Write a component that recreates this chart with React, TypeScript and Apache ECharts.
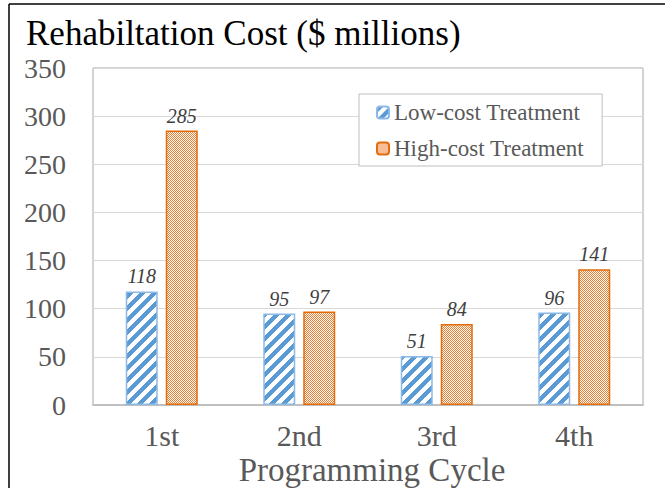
import React, { useEffect, useRef } from "react";
import * as echarts from "echarts";

const categories = ["1st", "2nd", "3rd", "4th"];
const lowCost = [118, 95, 51, 96];
const highCost = [285, 97, 84, 141];
const yTicks = { min: 0, max: 350, interval: 50 };

function makeStripe(): HTMLCanvasElement {
  const P = 12;
  const c = document.createElement("canvas");
  c.width = P;
  c.height = P;
  const ctx = c.getContext("2d")!;
  const img = ctx.createImageData(P, P);
  for (let y = 0; y < P; y++) {
    for (let x = 0; x < P; x++) {
      const i = (y * P + x) * 4;
      const on = (x + y) % P < 6;
      img.data[i] = on ? 91 : 255;
      img.data[i + 1] = on ? 155 : 255;
      img.data[i + 2] = on ? 213 : 255;
      img.data[i + 3] = 255;
    }
  }
  ctx.putImageData(img, 0, 0);
  return c;
}

function makeChecker(): HTMLCanvasElement {
  const c = document.createElement("canvas");
  c.width = 2;
  c.height = 2;
  const ctx = c.getContext("2d")!;
  ctx.fillStyle = "#ffffff";
  ctx.fillRect(0, 0, 2, 2);
  ctx.fillStyle = "#ED7D31";
  ctx.fillRect(0, 0, 1, 1);
  ctx.fillRect(1, 1, 1, 1);
  return c;
}

export default function App() {
  const ref = useRef<HTMLDivElement>(null);
  useEffect(() => {
    document.body.style.margin = "0";
    const chart = echarts.init(ref.current!, null, { renderer: "svg" });
    const font = "'Liberation Serif', 'Times New Roman', serif";
    const labelStyle = {
      show: true,
      position: "top" as const,
      distance: 5,
      fontFamily: font,
      fontStyle: "italic" as const,
      fontSize: 20,
      color: "#404040",
    };
    chart.setOption({
      animation: false,
      backgroundColor: "#ffffff",
      title: {
        text: "Rehabiltation Cost ($ millions)",
        left: 21,
        top: 11,
        textStyle: { fontFamily: font, fontSize: 35, fontWeight: "normal", color: "#000000" },
      },
      graphic: [
        { type: "line", shape: { x1: 9, y1: 4, x2: 665, y2: 4 }, style: { stroke: "#000", lineWidth: 1.5 } },
        { type: "line", shape: { x1: 9, y1: 4, x2: 9, y2: 488 }, style: { stroke: "#000", lineWidth: 1.5 } },
      ],
      legend: {
        orient: "vertical",
        left: 359,
        top: 94,
        padding: [7, 18, 6, 17],
        itemGap: 13,
        itemWidth: 12,
        itemHeight: 12,
        borderColor: "#BFBFBF",
        borderWidth: 1,
        backgroundColor: "#ffffff",
        textStyle: { fontFamily: font, fontSize: 23, color: "#595959" },
        data: ["Low-cost Treatment", "High-cost Treatment"],
      },
      grid: {
        left: 93,
        right: 22,
        top: 68,
        bottom: 83,
        show: true,
        borderColor: "#A6A6A6",
        borderWidth: 1,
        containLabel: false,
        outerBoundsMode: "none",
      },
      xAxis: {
        type: "category",
        data: categories,
        axisTick: { show: false },
        axisLine: { lineStyle: { color: "#BFBFBF", width: 2 } },
        axisLabel: { fontFamily: font, fontSize: 30, lineHeight: 28, color: "#595959", margin: 16 },
        name: "Programming Cycle",
        nameLocation: "middle",
        nameGap: 50,
        nameMoveOverlap: false,
        nameTextStyle: { fontFamily: font, fontSize: 33, lineHeight: 30, color: "#595959", padding: [0, 0, 0, 8] },
      },
      yAxis: {
        type: "value",
        min: yTicks.min,
        max: yTicks.max,
        interval: yTicks.interval,
        axisLine: { show: false },
        axisTick: { show: false },
        splitLine: { lineStyle: { color: "#D9D9D9" } },
        axisLabel: { fontFamily: font, fontSize: 28, color: "#595959", margin: 27 },
      },
      series: [
        {
          name: "Low-cost Treatment",
          type: "bar",
          data: lowCost,
          barWidth: 32,
          barGap: "25%",
          itemStyle: {
            color: { image: makeStripe(), repeat: "repeat" },
            borderColor: "#8DB9E6",
            borderWidth: 1.5,
          },
          label: labelStyle,
        },
        {
          name: "High-cost Treatment",
          type: "bar",
          data: highCost,
          barWidth: 32,
          itemStyle: {
            color: { image: makeChecker(), repeat: "repeat" },
            borderColor: "#E46C0A",
            borderWidth: 1.5,
          },
          label: labelStyle,
        },
      ],
    });
    return () => chart.dispose();
  }, []);
  return <div ref={ref} style={{ width: 665, height: 488 }} />;
}
